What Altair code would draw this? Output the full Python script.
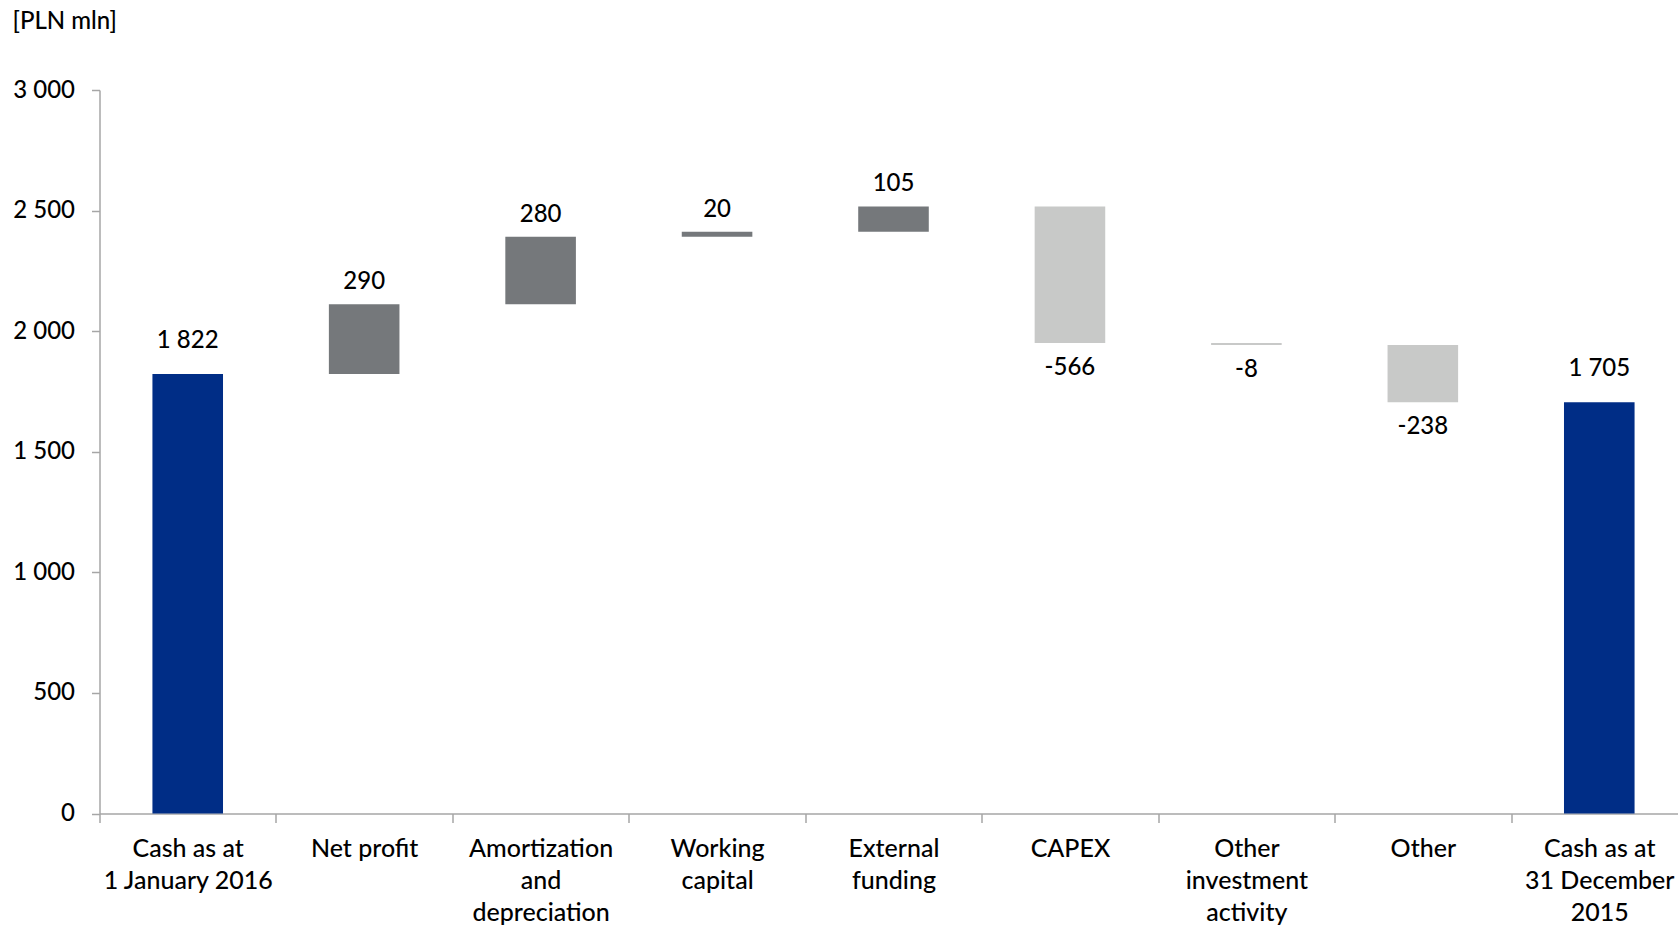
import altair as alt
import pandas as pd

# Cash-flow bridge, PLN mln
categories = [
    "Cash as at|1 January 2016",
    "Net profit",
    "Amortization|and|depreciation",
    "Working|capital",
    "External|funding",
    "CAPEX",
    "Other|investment|activity",
    "Other",
    "Cash as at|31 December|2015",
]
amounts = [1822, 290, 280, 20, 105, -566, -8, -238, 1705]
kinds = ["total", "up", "up", "up", "up", "down", "down", "down", "total"]

# running start / end of every bar
starts, ends = [], []
running = 0
for amt, kind in zip(amounts, kinds):
    if kind == "total":
        s, e = 0, amt
        running = amt
    else:
        s, e = running, running + amt
        running = e
    starts.append(s)
    ends.append(e)

df = pd.DataFrame({
    "category": categories,
    "amount": amounts,
    "kind": kinds,
    "start": starts,
    "end": ends,
})

FONT = "Lato"
WEIGHT = 500
AXIS_GREY = "#A6A6A6"

x_scale = alt.Scale(domain=categories, range=[0, 1588], paddingInner=0, paddingOuter=0)
y_scale = alt.Scale(domain=[0, 3000], nice=False)

x_enc = alt.X(
    "category:N",
    sort=categories,
    scale=x_scale,
    axis=alt.Axis(
        title=None,
        labelAngle=0,
        labelExpr="split(datum.label, '|')",
        labelFontSize=25,
        labelFontWeight=WEIGHT,
        labelLineHeight=32,
        labelPadding=14,
        labelColor="#000000",
        labelFont=FONT,
        tickBand="extent",
        tickSize=9,
        tickColor=AXIS_GREY,
        domainColor=AXIS_GREY,
        domainWidth=1.5,
        tickWidth=1.5,
        labelBaseline="top",
        grid=False,
    ),
)

bars = alt.Chart(df).mark_bar(width=alt.RelativeBandSize(0.4)).encode(
    x=x_enc,
    y=alt.Y(
        "start:Q",
        scale=y_scale,
        axis=alt.Axis(
            title=None,
            values=[0, 500, 1000, 1500, 2000, 2500, 3000],
            labelExpr="replace(format(datum.value, ','), ',', ' ')",
            labelFontSize=24,
            labelFontWeight=WEIGHT,
            labelFont=FONT,
            labelColor="#000000",
            labelPadding=17,
            tickSize=8,
            tickColor=AXIS_GREY,
            domainColor=AXIS_GREY,
            domainWidth=1.5,
            tickWidth=1.5,
            grid=False,
        ),
    ),
    y2="end:Q",
    color=alt.Color(
        "kind:N",
        scale=alt.Scale(domain=["total", "up", "down"], range=["#002D86", "#75787B", "#C8C9C8"]),
        legend=None,
    ),
)

label_expr = "(datum.amount < 0 ? '-' : '') + replace(format(abs(datum.amount), ','), ',', ' ')"


def value_labels(kind, dy):
    return (
        alt.Chart(df)
        .transform_filter(alt.datum.kind == kind)
        .transform_calculate(label=label_expr)
        .mark_text(font=FONT, fontSize=24, fontWeight=WEIGHT, color="#000000", baseline="middle", dy=dy)
        .encode(
            x=alt.X("category:N", sort=categories),
            y=alt.Y("end:Q"),
            text="label:N",
        )
    )


unit_label = alt.Chart(pd.DataFrame({"t": ["[PLN mln]"]})).mark_text(
    font=FONT, fontSize=24, fontWeight=WEIGHT, color="#000000", align="left", baseline="middle"
).encode(x=alt.value(-87), y=alt.value(-68), text="t:N")

chart = (
    alt.layer(
        bars,
        value_labels("total", -33),
        value_labels("up", -22),
        value_labels("down", 25),
        unit_label,
    )
    .properties(
        width=1578.5,
        height=723.5,
        background="#FFFFFF",
        autosize=alt.AutoSizeParams(type="none"),
        padding={"left": 99.5, "top": 90, "right": 0, "bottom": 112.5},
    )
    .configure_view(stroke="transparent")
    .configure_axis(grid=False)
)

chart.save("out.html", embed_options={"renderer": "svg", "actions": False})
